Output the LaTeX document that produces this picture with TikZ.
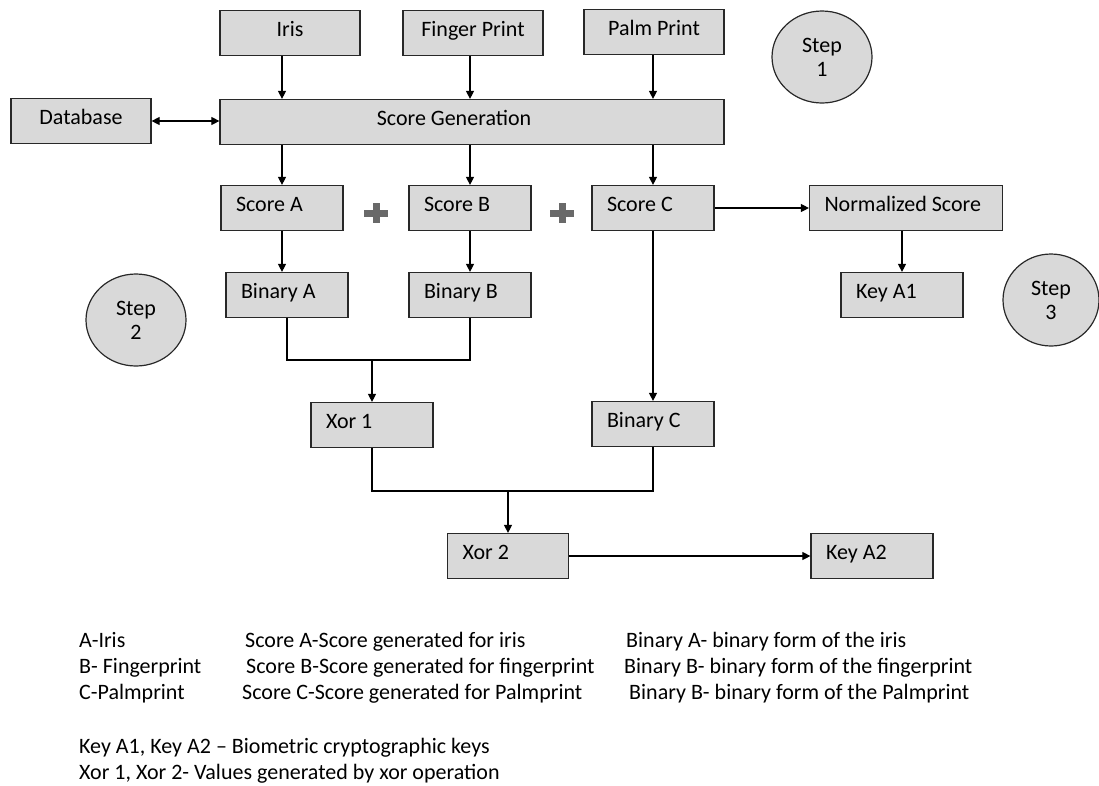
\documentclass[tikz,border=0pt]{standalone}
\usepackage{fontspec}
\setmainfont{Carlito}
\usetikzlibrary{arrows.meta, shapes.geometric, positioning}
\definecolor{boxfill}{RGB}{217, 217, 217}
\definecolor{boxline}{RGB}{40, 40, 40}
\definecolor{plusgray}{RGB}{105, 105, 105}

\begin{document}
\begin{tikzpicture}[x=1pt, y=-1pt,
    every node/.style={font=\fontsize{22}{24}\selectfont},
    box/.style={draw=boxline, fill=boxfill, line width=1.2pt, minimum height=45pt,
      inner sep=0pt, text height=16pt, text depth=10pt},
    cbox/.style={box, minimum width=140pt},
    lbox/.style={box, text width=#1, inner xsep=15pt, align=flush left},
    lbox/.default=92pt,
    stepcirc/.style={ellipse, draw=boxline, fill=boxfill, line width=1.2pt,
      minimum width=100pt, minimum height=92pt, inner sep=0pt, align=center},
    arr/.style={-{Triangle[length=8pt,width=8pt]}, line width=1.1pt},
    both/.style={{Triangle[length=8pt,width=8pt]}-{Triangle[length=8pt,width=8pt]}, line width=1.1pt},
    link/.style={line width=1.1pt},
    legend/.style={anchor=base west, inner sep=0pt}]
  \useasboundingbox (0,0) rectangle (1099,785);

  % Inputs
  \node[cbox] (iris) at (290,33) {Iris};
  \node[cbox] (finger) at (473,33) {Finger Print};
  \node[cbox] (palm) at (654,32) {Palm Print};
  \node[cbox] (db) at (81,121) {Database};
  \node[box, minimum width=504pt] (scoregen) at (472,122) {Score Generation\hspace*{36pt}};

  % Scores and keys
  \node[lbox] (scoreA) at (282,208) {Score A};
  \node[lbox] (scoreB) at (470,208) {Score B};
  \node[lbox] (scoreC) at (653,208) {Score C};
  \node[lbox=163pt] (norm) at (906,208) {Normalized Score};
  \node[lbox] (keyA1) at (902,295) {Key A1};
  \node[lbox] (binA) at (287,295) {Binary A};
  \node[lbox] (binB) at (470,295) {Binary B};
  \node[lbox] (xor1) at (372,425) {Xor 1};
  \node[lbox] (binC) at (653,424) {Binary C};
  \node[lbox=91pt] (xor2) at (508,556) {Xor 2};
  \node[lbox] (keyA2) at (872,556) {Key A2};

  % Steps
  \node[stepcirc] (step1) at (822,57) {Step\\1};
  \node[stepcirc] (step2) at (136,320) {Step\\2};
  \node[stepcirc, minimum width=96pt] (step3) at (1051,300) {Step\\3};

  % Plus signs
  \foreach \px in {376,562}{
    \draw[plusgray, line width=7pt] (\px-12,213) -- (\px+12,213) (\px,203) -- (\px,223);
  }

  % Connectors
  \draw[both] (db.east) -- (db.east -| scoregen.west);
  \foreach \src/\dst in {iris/scoreA, finger/scoreB, palm/scoreC}{
    \draw[arr] (\src.south -| \dst.north) -- (scoregen.north -| \dst.north);
    \draw[arr] (scoregen.south -| \dst.north) -- (\dst.north);
  }
  \draw[arr] (scoreA.south) -- (scoreA.south |- binA.north);
  \draw[arr] (scoreB.south) -- (binB.north);
  \draw[arr] (scoreC.south) -- (binC.north);
  \draw[arr] (scoreC.east) -- (norm.west);
  \draw[arr] (norm.south -| keyA1.north) -- (keyA1.north);
  \coordinate (m1) at (xor1.north |- 0,360);
  \draw[link] (binA.south) |- (m1) -| (binB.south);
  \draw[arr] (m1) -- (xor1.north);
  \coordinate (m2) at (xor2.north |- 0,491);
  \draw[link] (xor1.south) |- (m2) -| (binC.south);
  \draw[arr] (m2) -- (xor2.north);
  \draw[arr] (xor2.east) -- (keyA2.west);

  % Legend
  \node[legend] (lgA) at (79,647) {A-Iris};
  \node[legend] (lgSA) at (245,647) {Score A-Score generated for iris};
  \node[legend] (lgBA) at (626,647) {Binary A- binary form of the iris};
  \node[legend] (lgB) at (79,673) {B- Fingerprint};
  \node[legend] (lgSB) at (246,673) {Score B-Score generated for fingerprint};
  \node[legend] (lgBB) at (624,673) {Binary B- binary form of the fingerprint};
  \node[legend] (lgC) at (79,699) {C-Palmprint};
  \node[legend] (lgSC) at (242,699) {Score C-Score generated for Palmprint};
  \node[legend] (lgBC) at (629,699) {Binary B- binary form of the Palmprint};
  \node[legend] (lgKey) at (79,753) {Key A1, Key A2 – Biometric cryptographic keys};
  \node[legend] (lgXor) at (79,779) {Xor 1, Xor 2- Values generated by xor operation};
\end{tikzpicture}
\end{document}
